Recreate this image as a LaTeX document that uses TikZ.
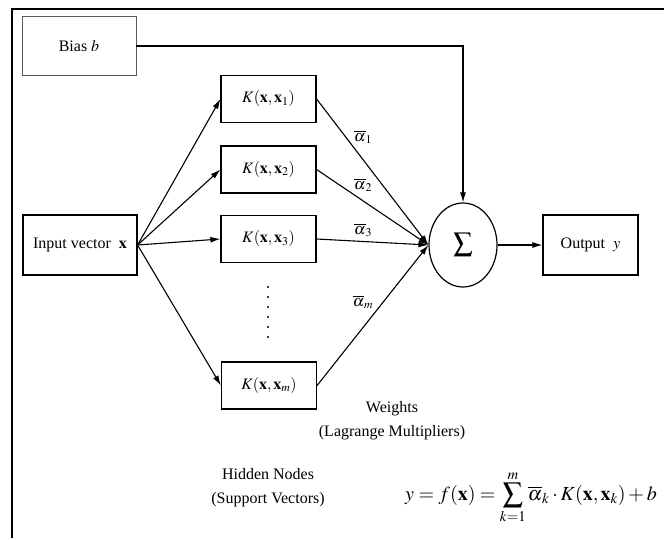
\documentclass[tikz,border=0pt]{standalone}
\usepackage{mathptmx}
\usepackage[no-math]{fontspec}
\setmainfont{Liberation Serif}
\usetikzlibrary{arrows.meta,shapes.geometric}
\begin{document}
\begin{tikzpicture}[x=1pt,y=-1pt,
  box/.style={draw,line width=1.2pt,minimum width=95pt,minimum height=47pt,inner sep=0pt,font=\fontsize{16}{18}\selectfont},
  arr/.style={line width=1.1pt,-{Latex[length=10pt,width=6pt]}},
  lbl/.style={font=\fontsize{16}{24}\selectfont,align=center,inner sep=0pt},
  wl/.style={font=\fontsize{16}{18}\selectfont,inner sep=0pt}]
\useasboundingbox (0,0) rectangle (664,540);
\draw[line width=2pt] (664,9) -- (12,9) -- (12,538);
\node[box,draw=black!65,line width=0.9pt,minimum width=114pt,minimum height=59pt] (bias) at (79,46) {Bias $b$};
\node[box,minimum width=114pt,minimum height=60pt] (in) at (80,245) {Input vector \ $\mathbf{x}$};
\node[box] (k1) at (268.5,99) {$K(\mathbf{x},\mathbf{x}_1)$};
\node[box] (k2) at (268.5,169.5) {$K(\mathbf{x},\mathbf{x}_2)$};
\node[box] (k3) at (268.5,239) {$K(\mathbf{x},\mathbf{x}_3)$};
\node[box] (km) at (269,385.5) {$K(\mathbf{x},\mathbf{x}_m)$};
\node[draw,ellipse,line width=1.2pt,minimum width=68pt,minimum height=84pt,inner sep=0pt,font=\fontsize{19}{22}\selectfont] (sum) at (463,245) {$\displaystyle\sum$};
\node[box,minimum height=60pt] (out) at (590.5,245) {Output \ $y$};
\foreach \i in {0,...,5} \fill (268,287+10*\i) circle (1.1pt);
\draw[arr] (in.east) -- (k1.west);
\draw[arr] (in.east) -- (k2.west);
\draw[arr] (in.east) -- (k3.west);
\draw[arr] (in.east) -- (km.west);
\draw[arr] (k1.east) -- (sum.west);
\draw[arr] (k2.east) -- (sum.west);
\draw[arr] (k3.east) -- (sum.west);
\draw[arr] (km.east) -- (sum.west);
\draw[arr] (bias.east) -- (bias.east -| sum.north) -- (sum.north);
\draw[arr] (sum.east) -- (out.west);
\node[wl] (a1) at (363,137) {$\overline{\alpha}_1$};
\node[wl] (a2) at (363,185) {$\overline{\alpha}_2$};
\node[wl] (a3) at (363,230) {$\overline{\alpha}_3$};
\node[wl] (am) at (363,302) {$\overline{\alpha}_m$};
\node[lbl] (w) at (392,421) {Weights\\(Lagrange Multipliers)};
\node[lbl] (hn) at (268,488) {Hidden Nodes\\(Support Vectors)};
\node[inner sep=0pt,font=\fontsize{20}{24}\selectfont] (f) at (531,497) {$y=f(\mathbf{x})=\displaystyle\sum_{k=1}^{m}\overline{\alpha}_k\cdot K(\mathbf{x},\mathbf{x}_k)+b$};
\end{tikzpicture}
\end{document}
